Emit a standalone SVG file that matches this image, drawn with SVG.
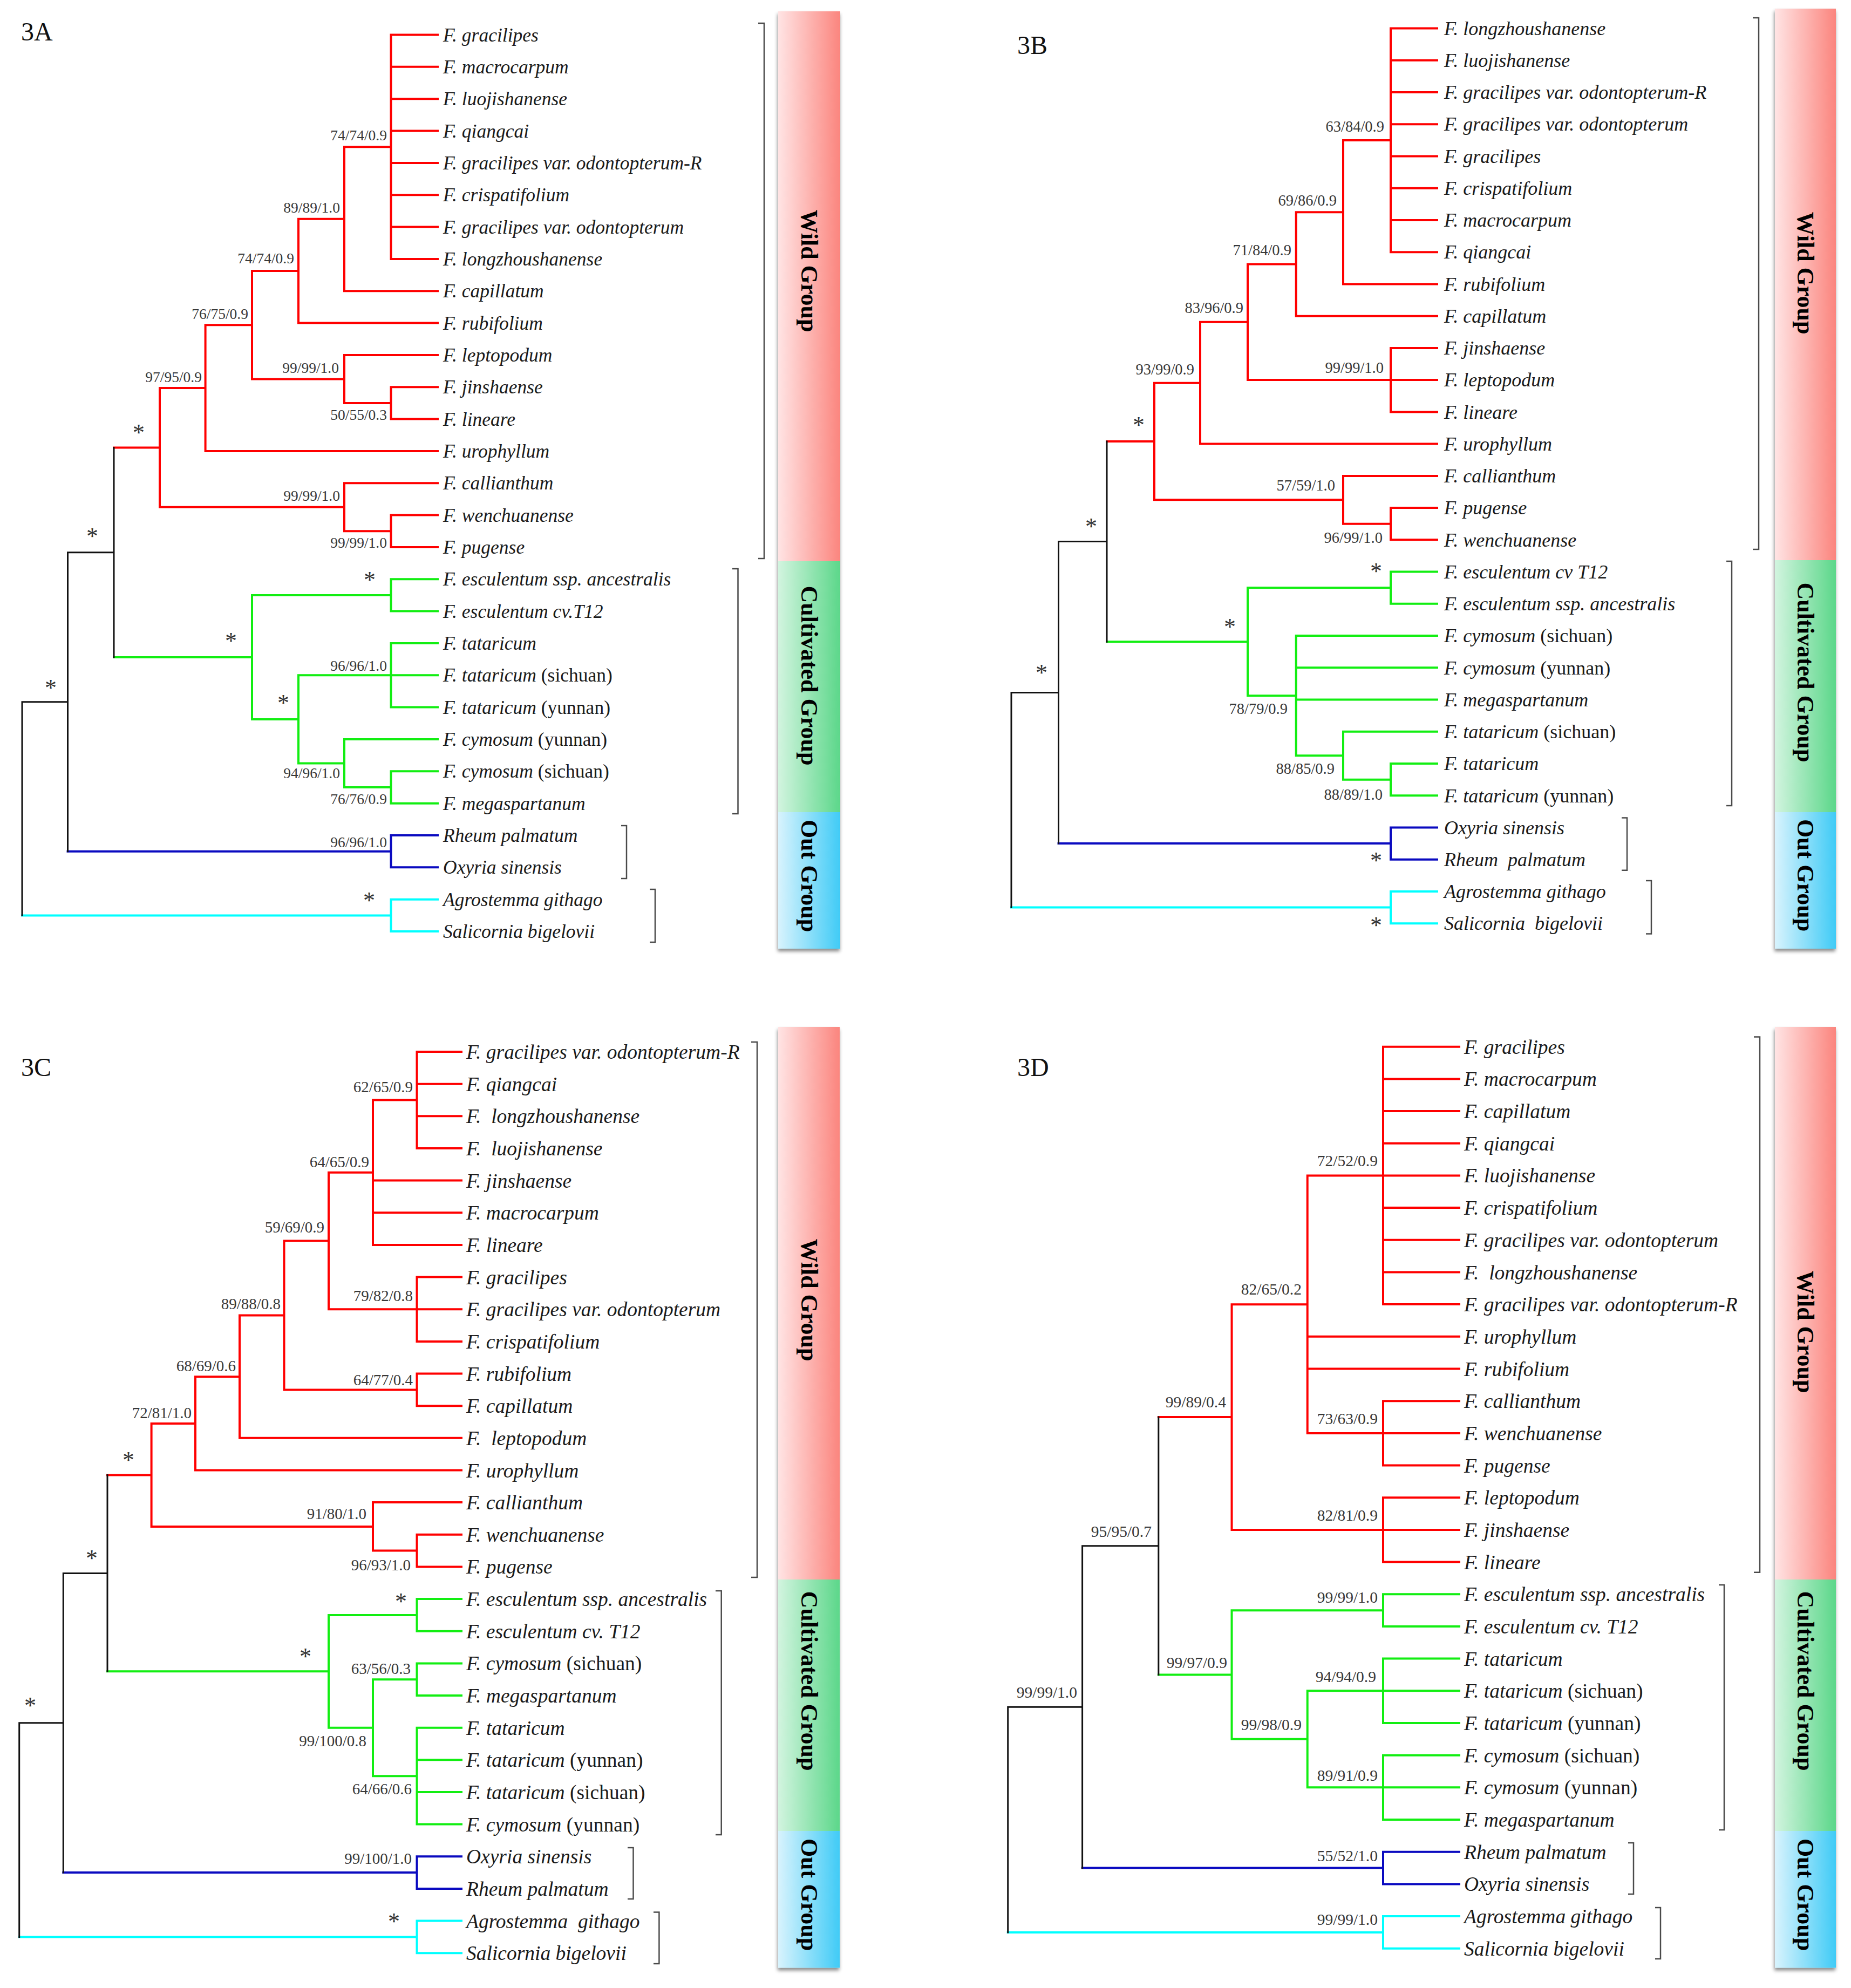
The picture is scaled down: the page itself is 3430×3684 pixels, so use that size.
<svg xmlns="http://www.w3.org/2000/svg" width="3430" height="3684" viewBox="0 0 3430 3684">
<defs>
<style>
.tr path{fill:none;stroke-width:4;stroke-linecap:square;stroke-linejoin:miter}
.r{stroke:#ff0000}.g{stroke:#12ee12}.b{stroke:#0a0ac0}.c{stroke:#00ffff}
.tr path.k{stroke:#111;stroke-width:3}
.br{fill:none;stroke:#4a4a4a;stroke-width:2.5}
.tx text{font-family:"Liberation Serif","Times New Roman",serif;font-style:italic;fill:#1a1a1a}
.np{font-style:normal}
.sv text{font-family:"Liberation Serif","Times New Roman",serif;fill:#383838;text-anchor:end}
.sv text.st{font-size:44px;text-anchor:middle;fill:#333}
.pl{font-family:"Liberation Serif","Times New Roman",serif;font-size:48px;fill:#111}
.gl{font-family:"Liberation Serif","Times New Roman",serif;font-weight:bold;font-size:44px;fill:#000;text-anchor:middle}
</style>
<linearGradient id="gw" x1="0" y1="0" x2="1" y2="0"><stop offset="0" stop-color="#ffe4e4"/><stop offset="1" stop-color="#fb857e"/></linearGradient>
<linearGradient id="gc" x1="0" y1="0" x2="1" y2="0"><stop offset="0" stop-color="#d2f4df"/><stop offset="1" stop-color="#5cd78a"/></linearGradient>
<linearGradient id="go" x1="0" y1="0" x2="1" y2="0"><stop offset="0" stop-color="#d8f3fd"/><stop offset="1" stop-color="#40cbf6"/></linearGradient>
<filter id="sh" x="-20%" y="-5%" width="140%" height="110%"><feDropShadow dx="-1" dy="5" stdDeviation="3" flood-color="#000" flood-opacity="0.45"/></filter>
</defs>
<rect width="3430" height="3684" fill="#fff"/>

<!-- ================= PANEL 3A ================= -->
<g id="panel-3A">
<text class="pl" x="39" y="75">3A</text>
<g id="bars-3A" filter="url(#sh)">
<rect x="1442" y="21" width="115" height="1019" fill="url(#gw)"/>
<rect x="1442" y="1040" width="115" height="465" fill="url(#gc)"/>
<rect x="1442" y="1505" width="115" height="253" fill="url(#go)"/>
</g>
<g id="A-wild-group"><text class="gl" transform="translate(1485,502) rotate(90)">Wild Group</text></g>
<g id="A-cultivated-group"><text class="gl" transform="translate(1485,1252) rotate(90)">Cultivated Group</text></g>
<g id="A-out-group"><text class="gl" transform="translate(1485,1623) rotate(90)">Out Group</text></g>
<g id="brackets-3A">
<path class="br" d="M1405,43H1416V1035H1405"/>
<path class="br" d="M1357,1054H1367.5V1508H1357"/>
<path class="br" d="M1151,1530H1161V1628H1151"/>
<path class="br" d="M1204,1648H1214V1746H1204"/>
</g>
<g id="connectors-3A" class="tr">
<path class="r" d="M724.5,64.5V479.9M724.5,64.5H811M724.5,123.8H811M724.5,183.2H811M724.5,242.5H811M724.5,301.9H811M724.5,361.2H811M724.5,420.5H811M724.5,479.9H811M638,272.2V539.2M638,272.2H724.5M638,539.2H811M553,405.7V598.6M553,405.7H638M553,598.6H811M724.5,717.2V776.6M724.5,717.2H811M724.5,776.6H811M638,657.9V746.9M638,657.9H811M638,746.9H724.5M467,502.1V702.4M467,502.1H553M467,702.4H638M380.6,602.3V835.9M380.6,602.3H467M380.6,835.9H811M724.5,954.6V1013.9M724.5,954.6H811M724.5,1013.9H811M638,895.3V984.3M638,895.3H811M638,984.3H724.5M296,719.1V939.8M296,719.1H380.6M296,939.8H638M211,829.5H296"/>
<path class="g" d="M724.5,1073.3V1132.6M724.5,1073.3H811M724.5,1132.6H811M724.5,1192V1310.6M724.5,1192H811M724.5,1251.3H811M724.5,1310.6H811M724.5,1429.3V1488.7M724.5,1429.3H811M724.5,1488.7H811M638,1370V1459M638,1370H811M638,1459H724.5M553,1251.3V1414.5M553,1251.3H724.5M553,1414.5H638M467,1103V1332.9M467,1103H724.5M467,1332.9H553M211,1218H467"/>
<path class="b" d="M724.5,1548V1607.3M724.5,1548H811M724.5,1607.3H811M125.5,1577.7H724.5"/>
<path class="c" d="M724.5,1666.7V1726M724.5,1666.7H811M724.5,1726H811M41,1696.4H724.5"/>
<path class="k" d="M211,829.5V1218M125.5,1023.7V1577.7M125.5,1023.7H211M41,1300.7V1696.4M41,1300.7H125.5"/>
</g>
<g id="support-3A" class="sv" font-size="27.5">
<text x="717" y="260">74/74/0.9</text>
<text x="630" y="394">89/89/1.0</text>
<text x="545" y="488">74/74/0.9</text>
<text x="460" y="591">76/75/0.9</text>
<text x="628" y="691">99/99/1.0</text>
<text x="717" y="778">50/55/0.3</text>
<text x="374" y="708">97/95/0.9</text>
<text x="630" y="928">99/99/1.0</text>
<text x="717" y="1015">99/99/1.0</text>
<text x="717" y="1243">96/96/1.0</text>
<text x="630" y="1442">94/96/1.0</text>
<text x="717" y="1490">76/76/0.9</text>
<text x="717" y="1570">96/96/1.0</text>
<text class="st" x="257" y="816">*</text>
<text class="st" x="685" y="1089">*</text>
<text class="st" x="428" y="1202">*</text>
<text class="st" x="525" y="1317">*</text>
<text class="st" x="171" y="1008">*</text>
<text class="st" x="94" y="1289">*</text>
<text class="st" x="684" y="1683">*</text>
</g>
<g id="taxa-3A" class="tx" font-size="35.5">
<g id="A-t00"><text x="821" y="76.5">F. gracilipes</text></g>
<g id="A-t01"><text x="821" y="135.8">F. macrocarpum</text></g>
<g id="A-t02"><text x="821" y="195.2">F. luojishanense</text></g>
<g id="A-t03"><text x="821" y="254.5">F. qiangcai</text></g>
<g id="A-t04"><text x="821" y="313.9">F. gracilipes var. odontopterum-R</text></g>
<g id="A-t05"><text x="821" y="373.2">F. crispatifolium</text></g>
<g id="A-t06"><text x="821" y="432.5">F. gracilipes var. odontopterum</text></g>
<g id="A-t07"><text x="821" y="491.9">F. longzhoushanense</text></g>
<g id="A-t08"><text x="821" y="551.2">F. capillatum</text></g>
<g id="A-t09"><text x="821" y="610.6">F. rubifolium</text></g>
<g id="A-t10"><text x="821" y="669.9">F. leptopodum</text></g>
<g id="A-t11"><text x="821" y="729.2">F. jinshaense</text></g>
<g id="A-t12"><text x="821" y="788.6">F. lineare</text></g>
<g id="A-t13"><text x="821" y="847.9">F. urophyllum</text></g>
<g id="A-t14"><text x="821" y="907.3">F. callianthum</text></g>
<g id="A-t15"><text x="821" y="966.6">F. wenchuanense</text></g>
<g id="A-t16"><text x="821" y="1025.9">F. pugense</text></g>
<g id="A-t17"><text x="821" y="1085.3">F. esculentum ssp. ancestralis</text></g>
<g id="A-t18"><text x="821" y="1144.6">F. esculentum cv.T12</text></g>
<g id="A-t19"><text x="821" y="1204">F. tataricum</text></g>
<g id="A-t20"><text x="821" y="1263.3">F. tataricum <tspan class="np">(sichuan)</tspan></text></g>
<g id="A-t21"><text x="821" y="1322.6">F. tataricum <tspan class="np">(yunnan)</tspan></text></g>
<g id="A-t22"><text x="821" y="1382">F. cymosum <tspan class="np">(yunnan)</tspan></text></g>
<g id="A-t23"><text x="821" y="1441.3">F. cymosum <tspan class="np">(sichuan)</tspan></text></g>
<g id="A-t24"><text x="821" y="1500.7">F. megaspartanum</text></g>
<g id="A-t25"><text x="821" y="1560">Rheum palmatum</text></g>
<g id="A-t26"><text x="821" y="1619.3">Oxyria sinensis</text></g>
<g id="A-t27"><text x="821" y="1678.7">Agrostemma githago</text></g>
<g id="A-t28"><text x="821" y="1738">Salicornia bigelovii</text></g>
</g>
</g>

<!-- ================= PANEL 3B ================= -->
<g id="panel-3B">
<text class="pl" x="1885" y="100">3B</text>
<g id="bars-3B" filter="url(#sh)">
<rect x="3289" y="16" width="113" height="1022" fill="url(#gw)"/>
<rect x="3289" y="1038" width="113" height="467" fill="url(#gc)"/>
<rect x="3289" y="1505" width="113" height="253" fill="url(#go)"/>
</g>
<g id="B-wild-group"><text class="gl" transform="translate(3331,506) rotate(90)">Wild Group</text></g>
<g id="B-cultivated-group"><text class="gl" transform="translate(3331,1246) rotate(90)">Cultivated Group</text></g>
<g id="B-out-group"><text class="gl" transform="translate(3331,1622) rotate(90)">Out Group</text></g>
<g id="brackets-3B">
<path class="br" d="M3248,33H3259V1018H3248"/>
<path class="br" d="M3199,1040H3209V1493H3199"/>
<path class="br" d="M3005,1515.6H3015V1612.7H3005"/>
<path class="br" d="M3050,1632H3060V1730.6H3050"/>
</g>
<g id="connectors-3B" class="tr">
<path class="r" d="M2577,52.5V467.2M2577,52.5H2663M2577,111.7H2663M2577,171H2663M2577,230.2H2663M2577,289.5H2663M2577,348.7H2663M2577,407.9H2663M2577,467.2H2663M2489,259.9V526.4M2489,259.9H2577M2489,526.4H2663M2401.7,393.2V585.7M2401.7,393.2H2489M2401.7,585.7H2663M2577,644.9V763.4M2577,644.9H2663M2577,704.1H2663M2577,763.4H2663M2312,489.5V704.1M2312,489.5H2401.7M2312,704.1H2577M2224,596.8V822.6M2224,596.8H2312M2224,822.6H2663M2577,941.1V1000.3M2577,941.1H2663M2577,1000.3H2663M2489,881.9V970.7M2489,881.9H2663M2489,970.7H2577M2139,709.7V926.3M2139,709.7H2224M2139,926.3H2489M2051,818H2139"/>
<path class="g" d="M2577,1059.6V1118.8M2577,1059.6H2663M2577,1118.8H2663M2577,1415V1474.3M2577,1415H2663M2577,1474.3H2663M2489,1355.8V1444.7M2489,1355.8H2663M2489,1444.7H2577M2401.7,1178.1V1400.2M2401.7,1178.1H2663M2401.7,1237.3H2663M2401.7,1296.5H2663M2401.7,1400.2H2489M2312,1089.2V1289.2M2312,1089.2H2577M2312,1289.2H2401.7M2051,1189.2H2312"/>
<path class="b" d="M2577,1533.5V1592.7M2577,1533.5H2663M2577,1592.7H2663M1961.5,1563.1H2577"/>
<path class="c" d="M2577,1652V1711.2M2577,1652H2663M2577,1711.2H2663M1874,1681.6H2577"/>
<path class="k" d="M2051,818V1189.2M1961.5,1003.6V1563.1M1961.5,1003.6H2051M1874,1283.4V1681.6M1874,1283.4H1961.5"/>
</g>
<g id="support-3B" class="sv" font-size="28.5">
<text x="2565" y="244">63/84/0.9</text>
<text x="2477" y="381">69/86/0.9</text>
<text x="2393" y="473">71/84/0.9</text>
<text x="2304" y="580">83/96/0.9</text>
<text x="2564" y="691">99/99/1.0</text>
<text x="2213" y="694">93/99/0.9</text>
<text x="2474" y="909">57/59/1.0</text>
<text x="2562" y="1006">96/99/1.0</text>
<text x="2386" y="1323">78/79/0.9</text>
<text x="2473" y="1434">88/85/0.9</text>
<text x="2562" y="1482">88/89/1.0</text>
<text class="st" x="2110" y="802">*</text>
<text class="st" x="2022" y="990">*</text>
<text class="st" x="2550" y="1073">*</text>
<text class="st" x="2279" y="1176">*</text>
<text class="st" x="1930" y="1261">*</text>
<text class="st" x="2550" y="1609">*</text>
<text class="st" x="2550" y="1729">*</text>
</g>
<g id="taxa-3B" class="tx" font-size="36">
<g id="B-t00"><text x="2676" y="64.7">F. longzhoushanense</text></g>
<g id="B-t01"><text x="2676" y="123.9">F. luojishanense</text></g>
<g id="B-t02"><text x="2676" y="183.2">F. gracilipes var. odontopterum-R</text></g>
<g id="B-t03"><text x="2676" y="242.4">F. gracilipes var. odontopterum</text></g>
<g id="B-t04"><text x="2676" y="301.7">F. gracilipes</text></g>
<g id="B-t05"><text x="2676" y="360.9">F. crispatifolium</text></g>
<g id="B-t06"><text x="2676" y="420.1">F. macrocarpum</text></g>
<g id="B-t07"><text x="2676" y="479.4">F. qiangcai</text></g>
<g id="B-t08"><text x="2676" y="538.6">F. rubifolium</text></g>
<g id="B-t09"><text x="2676" y="597.9">F. capillatum</text></g>
<g id="B-t10"><text x="2676" y="657.1">F. jinshaense</text></g>
<g id="B-t11"><text x="2676" y="716.3">F. leptopodum</text></g>
<g id="B-t12"><text x="2676" y="775.6">F. lineare</text></g>
<g id="B-t13"><text x="2676" y="834.8">F. urophyllum</text></g>
<g id="B-t14"><text x="2676" y="894.1">F. callianthum</text></g>
<g id="B-t15"><text x="2676" y="953.3">F. pugense</text></g>
<g id="B-t16"><text x="2676" y="1012.5">F. wenchuanense</text></g>
<g id="B-t17"><text x="2676" y="1071.8">F. esculentum cv T12</text></g>
<g id="B-t18"><text x="2676" y="1131">F. esculentum ssp. ancestralis</text></g>
<g id="B-t19"><text x="2676" y="1190.3">F. cymosum <tspan class="np">(sichuan)</tspan></text></g>
<g id="B-t20"><text x="2676" y="1249.5">F. cymosum <tspan class="np">(yunnan)</tspan></text></g>
<g id="B-t21"><text x="2676" y="1308.7">F. megaspartanum</text></g>
<g id="B-t22"><text x="2676" y="1368">F. tataricum <tspan class="np">(sichuan)</tspan></text></g>
<g id="B-t23"><text x="2676" y="1427.2">F. tataricum</text></g>
<g id="B-t24"><text x="2676" y="1486.5">F. tataricum <tspan class="np">(yunnan)</tspan></text></g>
<g id="B-t25"><text x="2676" y="1545.7">Oxyria sinensis</text></g>
<g id="B-t26"><text x="2676" y="1604.9">Rheum &#160;palmatum</text></g>
<g id="B-t27"><text x="2676" y="1664.2">Agrostemma githago</text></g>
<g id="B-t28"><text x="2676" y="1723.4">Salicornia &#160;bigelovii</text></g>
</g>
</g>

<!-- ================= PANEL 3C ================= -->
<g id="panel-3C">
<text class="pl" x="39" y="1994">3C</text>
<g id="bars-3C" filter="url(#sh)">
<rect x="1442" y="1903" width="114" height="1024" fill="url(#gw)"/>
<rect x="1442" y="2927" width="114" height="466" fill="url(#gc)"/>
<rect x="1442" y="3393" width="114" height="253.5" fill="url(#go)"/>
</g>
<g id="C-wild-group"><text class="gl" transform="translate(1485,2409) rotate(90)">Wild Group</text></g>
<g id="C-cultivated-group"><text class="gl" transform="translate(1485,3115) rotate(90)">Cultivated Group</text></g>
<g id="C-out-group"><text class="gl" transform="translate(1485,3511) rotate(90)">Out Group</text></g>
<g id="brackets-3C">
<path class="br" d="M1392,1931H1403V2923H1392"/>
<path class="br" d="M1326,2948H1336.7V3400H1326"/>
<path class="br" d="M1163,3424H1173.5V3519H1163"/>
<path class="br" d="M1211,3543.5H1221.4V3639H1211"/>
</g>
<g id="connectors-3C" class="tr">
<path class="r" d="M772.5,1949V2128M772.5,1949H855M772.5,2008.7H855M772.5,2068.3H855M772.5,2128H855M691,2038.5V2306.9M691,2038.5H772.5M691,2187.6H855M691,2247.3H855M691,2306.9H855M772.5,2366.6V2485.9M772.5,2366.6H855M772.5,2426.2H855M772.5,2485.9H855M609,2172.7V2426.2M609,2172.7H691M609,2426.2H772.5M772.5,2545.5V2605.2M772.5,2545.5H855M772.5,2605.2H855M526.5,2299.5V2575.4M526.5,2299.5H609M526.5,2575.4H772.5M444,2437.5V2664.8M444,2437.5H526.5M444,2664.8H855M362,2551.2V2724.5M362,2551.2H444M362,2724.5H855M772.5,2843.8V2903.4M772.5,2843.8H855M772.5,2903.4H855M691,2784.1V2873.6M691,2784.1H855M691,2873.6H772.5M280.6,2637.9V2828.9M280.6,2637.9H362M280.6,2828.9H691M199,2733.4H280.6"/>
<path class="g" d="M772.5,2963.1V3022.7M772.5,2963.1H855M772.5,3022.7H855M772.5,3082.4V3142M772.5,3082.4H855M772.5,3142H855M772.5,3201.7V3380.6M772.5,3201.7H855M772.5,3261.3H855M772.5,3321H855M772.5,3380.6H855M691,3112.2V3291.2M691,3112.2H772.5M691,3291.2H772.5M609,2992.9V3201.7M609,2992.9H772.5M609,3201.7H691M199,3097.3H609"/>
<path class="b" d="M772.5,3440.3V3499.9M772.5,3440.3H855M772.5,3499.9H855M117.3,3470.1H772.5"/>
<path class="c" d="M772.5,3559.6V3619.2M772.5,3559.6H855M772.5,3619.2H855M35.7,3589.4H772.5"/>
<path class="k" d="M199,2733.4V3097.3M117.3,2915.4V3470.1M117.3,2915.4H199M35.7,3192.8V3589.4M35.7,3192.8H117.3"/>
</g>
<g id="support-3C" class="sv" font-size="29">
<text x="765" y="2024">62/65/0.9</text>
<text x="684" y="2163">64/65/0.9</text>
<text x="601" y="2284">59/69/0.9</text>
<text x="765" y="2411">79/82/0.8</text>
<text x="520" y="2426">89/88/0.8</text>
<text x="765" y="2567">64/77/0.4</text>
<text x="437" y="2541">68/69/0.6</text>
<text x="355" y="2628">72/81/1.0</text>
<text x="679" y="2815">91/80/1.0</text>
<text x="761" y="2910">96/93/1.0</text>
<text x="761" y="3102">63/56/0.3</text>
<text x="679" y="3236">99/100/0.8</text>
<text x="763" y="3325">64/66/0.6</text>
<text x="763" y="3454">99/100/1.0</text>
<text class="st" x="238" y="2720">*</text>
<text class="st" x="743" y="2982">*</text>
<text class="st" x="566" y="3084">*</text>
<text class="st" x="170" y="2902">*</text>
<text class="st" x="56" y="3175">*</text>
<text class="st" x="730" y="3575">*</text>
</g>
<g id="taxa-3C" class="tx" font-size="37.5">
<g id="C-t00"><text x="864" y="1962">F. gracilipes var. odontopterum-R</text></g>
<g id="C-t01"><text x="864" y="2021.7">F. qiangcai</text></g>
<g id="C-t02"><text x="864" y="2081.3">F. &#160;longzhoushanense</text></g>
<g id="C-t03"><text x="864" y="2141">F. &#160;luojishanense</text></g>
<g id="C-t04"><text x="864" y="2200.6">F. jinshaense</text></g>
<g id="C-t05"><text x="864" y="2260.3">F. macrocarpum</text></g>
<g id="C-t06"><text x="864" y="2319.9">F. lineare</text></g>
<g id="C-t07"><text x="864" y="2379.6">F. gracilipes</text></g>
<g id="C-t08"><text x="864" y="2439.2">F. gracilipes var. odontopterum</text></g>
<g id="C-t09"><text x="864" y="2498.9">F. crispatifolium</text></g>
<g id="C-t10"><text x="864" y="2558.5">F. rubifolium</text></g>
<g id="C-t11"><text x="864" y="2618.2">F. capillatum</text></g>
<g id="C-t12"><text x="864" y="2677.8">F. &#160;leptopodum</text></g>
<g id="C-t13"><text x="864" y="2737.5">F. urophyllum</text></g>
<g id="C-t14"><text x="864" y="2797.1">F. callianthum</text></g>
<g id="C-t15"><text x="864" y="2856.8">F. wenchuanense</text></g>
<g id="C-t16"><text x="864" y="2916.4">F. pugense</text></g>
<g id="C-t17"><text x="864" y="2976.1">F. esculentum ssp. ancestralis</text></g>
<g id="C-t18"><text x="864" y="3035.7">F. esculentum cv. T12</text></g>
<g id="C-t19"><text x="864" y="3095.4">F. cymosum <tspan class="np">(sichuan)</tspan></text></g>
<g id="C-t20"><text x="864" y="3155">F. megaspartanum</text></g>
<g id="C-t21"><text x="864" y="3214.7">F. tataricum</text></g>
<g id="C-t22"><text x="864" y="3274.3">F. tataricum <tspan class="np">(yunnan)</tspan></text></g>
<g id="C-t23"><text x="864" y="3334">F. tataricum <tspan class="np">(sichuan)</tspan></text></g>
<g id="C-t24"><text x="864" y="3393.6">F. cymosum <tspan class="np">(yunnan)</tspan></text></g>
<g id="C-t25"><text x="864" y="3453.3">Oxyria sinensis</text></g>
<g id="C-t26"><text x="864" y="3512.9">Rheum palmatum</text></g>
<g id="C-t27"><text x="864" y="3572.6">Agrostemma &#160;githago</text></g>
<g id="C-t28"><text x="864" y="3632.2">Salicornia bigelovii</text></g>
</g>
</g>

<!-- ================= PANEL 3D ================= -->
<g id="panel-3D">
<text class="pl" x="1885" y="1994">3D</text>
<g id="bars-3D" filter="url(#sh)">
<rect x="3289" y="1903" width="113" height="1024" fill="url(#gw)"/>
<rect x="3289" y="2927" width="113" height="466" fill="url(#gc)"/>
<rect x="3289" y="3393" width="113" height="253.5" fill="url(#go)"/>
</g>
<g id="D-wild-group"><text class="gl" transform="translate(3331,2468) rotate(90)">Wild Group</text></g>
<g id="D-cultivated-group"><text class="gl" transform="translate(3331,3115) rotate(90)">Cultivated Group</text></g>
<g id="D-out-group"><text class="gl" transform="translate(3331,3511) rotate(90)">Out Group</text></g>
<g id="brackets-3D">
<path class="br" d="M3250,1921.5H3261V2913.7H3250"/>
<path class="br" d="M3185,2937H3195V3391H3185"/>
<path class="br" d="M3017,3415H3027V3510H3017"/>
<path class="br" d="M3067,3535H3077V3630H3067"/>
</g>
<g id="connectors-3D" class="tr">
<path class="r" d="M2563,1939.7V2417.1M2563,1939.7H2704M2563,1999.4H2704M2563,2059.1H2704M2563,2118.7H2704M2563,2178.4H2704M2563,2238.1H2704M2563,2297.8H2704M2563,2357.5H2704M2563,2417.1H2704M2563,2596.2V2715.5M2563,2596.2H2704M2563,2655.9H2704M2563,2715.5H2704M2422.7,2178.4V2655.9M2422.7,2178.4H2563M2422.7,2476.8H2704M2422.7,2536.5H2704M2422.7,2655.9H2563M2563,2775.2V2894.6M2563,2775.2H2704M2563,2834.9H2704M2563,2894.6H2704M2282.5,2417.2V2834.9M2282.5,2417.2H2422.7M2282.5,2834.9H2563M2146.8,2626.1H2282.5"/>
<path class="g" d="M2563,2954.3V3014M2563,2954.3H2704M2563,3014H2704M2563,3073.6V3193M2563,3073.6H2704M2563,3133.3H2704M2563,3193H2704M2563,3252.7V3372M2563,3252.7H2704M2563,3312.3H2704M2563,3372H2704M2422.7,3133.3V3312.3M2422.7,3133.3H2563M2422.7,3312.3H2563M2282.5,2984.2V3222.8M2282.5,2984.2H2563M2282.5,3222.8H2422.7M2146.8,3103.5H2282.5"/>
<path class="b" d="M2563,3431.7V3491.4M2563,3431.7H2704M2563,3491.4H2704M2005.6,3461.6H2563"/>
<path class="c" d="M2563,3551.1V3610.7M2563,3551.1H2704M2563,3610.7H2704M1867.7,3580.9H2563"/>
<path class="k" d="M2146.8,2626.1V3103.5M2005.6,2864.8V3461.6M2005.6,2864.8H2146.8M1867.7,3163.2V3580.9M1867.7,3163.2H2005.6"/>
</g>
<g id="support-3D" class="sv" font-size="29.5">
<text x="2553" y="2161">72/52/0.9</text>
<text x="2553" y="2639">73/63/0.9</text>
<text x="2412" y="2399">82/65/0.2</text>
<text x="2553" y="2818">82/81/0.9</text>
<text x="2272" y="2608">99/89/0.4</text>
<text x="2553" y="2970">99/99/1.0</text>
<text x="2550" y="3117">94/94/0.9</text>
<text x="2553" y="3300">89/91/0.9</text>
<text x="2412" y="3206">99/98/0.9</text>
<text x="2274" y="3091">99/97/0.9</text>
<text x="2134" y="2848">95/95/0.7</text>
<text x="2553" y="3449">55/52/1.0</text>
<text x="1996" y="3146">99/99/1.0</text>
<text x="2553" y="3567">99/99/1.0</text>
</g>
<g id="taxa-3D" class="tx" font-size="37.5">
<g id="D-t00"><text x="2713" y="1952.7">F. gracilipes</text></g>
<g id="D-t01"><text x="2713" y="2012.4">F. macrocarpum</text></g>
<g id="D-t02"><text x="2713" y="2072.1">F. capillatum</text></g>
<g id="D-t03"><text x="2713" y="2131.7">F. qiangcai</text></g>
<g id="D-t04"><text x="2713" y="2191.4">F. luojishanense</text></g>
<g id="D-t05"><text x="2713" y="2251.1">F. crispatifolium</text></g>
<g id="D-t06"><text x="2713" y="2310.8">F. gracilipes var. odontopterum</text></g>
<g id="D-t07"><text x="2713" y="2370.5">F. &#160;longzhoushanense</text></g>
<g id="D-t08"><text x="2713" y="2430.1">F. gracilipes var. odontopterum-R</text></g>
<g id="D-t09"><text x="2713" y="2489.8">F. urophyllum</text></g>
<g id="D-t10"><text x="2713" y="2549.5">F. rubifolium</text></g>
<g id="D-t11"><text x="2713" y="2609.2">F. callianthum</text></g>
<g id="D-t12"><text x="2713" y="2668.9">F. wenchuanense</text></g>
<g id="D-t13"><text x="2713" y="2728.5">F. pugense</text></g>
<g id="D-t14"><text x="2713" y="2788.2">F. leptopodum</text></g>
<g id="D-t15"><text x="2713" y="2847.9">F. jinshaense</text></g>
<g id="D-t16"><text x="2713" y="2907.6">F. lineare</text></g>
<g id="D-t17"><text x="2713" y="2967.3">F. esculentum ssp. ancestralis</text></g>
<g id="D-t18"><text x="2713" y="3027">F. esculentum cv. T12</text></g>
<g id="D-t19"><text x="2713" y="3086.6">F. tataricum</text></g>
<g id="D-t20"><text x="2713" y="3146.3">F. tataricum <tspan class="np">(sichuan)</tspan></text></g>
<g id="D-t21"><text x="2713" y="3206">F. tataricum <tspan class="np">(yunnan)</tspan></text></g>
<g id="D-t22"><text x="2713" y="3265.7">F. cymosum <tspan class="np">(sichuan)</tspan></text></g>
<g id="D-t23"><text x="2713" y="3325.3">F. cymosum <tspan class="np">(yunnan)</tspan></text></g>
<g id="D-t24"><text x="2713" y="3385">F. megaspartanum</text></g>
<g id="D-t25"><text x="2713" y="3444.7">Rheum palmatum</text></g>
<g id="D-t26"><text x="2713" y="3504.4">Oxyria sinensis</text></g>
<g id="D-t27"><text x="2713" y="3564.1">Agrostemma githago</text></g>
<g id="D-t28"><text x="2713" y="3623.7">Salicornia bigelovii</text></g>
</g>
</g>
</svg>
